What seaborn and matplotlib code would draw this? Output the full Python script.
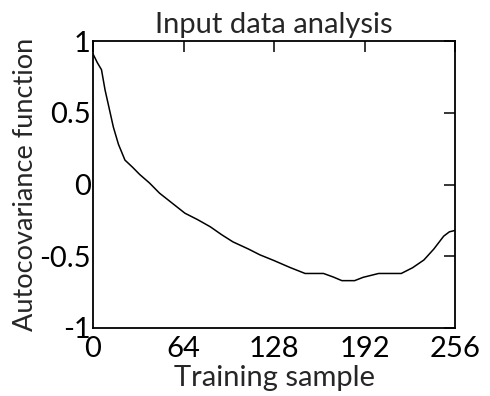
import matplotlib
matplotlib.use("Agg")
import matplotlib.pyplot as plt
import seaborn as sns
import pandas as pd

# data
sample = [0, 3, 6, 8.5, 11, 14.4, 18, 22.6, 28, 33, 40, 47, 56, 65, 74, 83, 91, 99,
          110, 118, 128, 139, 150, 163, 170, 176, 185, 191, 202, 218, 226, 234,
          241, 248, 252, 256]
acov = [0.91, 0.85, 0.80, 0.66, 0.55, 0.40, 0.28, 0.17, 0.12, 0.07, 0.01, -0.06,
        -0.13, -0.20, -0.245, -0.295, -0.35, -0.40, -0.45, -0.49, -0.53, -0.577,
        -0.62, -0.62, -0.645, -0.67, -0.67, -0.647, -0.62, -0.62, -0.58, -0.526,
        -0.45, -0.36, -0.33, -0.32]
xticks = [0, 64, 128, 192, 256]
yticks = [-1, -0.5, 0, 0.5, 1]
ytick_labels = ["-1", "-0.5", "0", "0.5", "1"]

sns.set_style("white")
plt.rcParams['font.family'] = ['Lato', 'DejaVu Sans']

fig = plt.figure(figsize=(4.9, 3.96), dpi=100)
ax = fig.add_axes([93/490, 1-328/396, (455-93)/490, (328-41)/396])

df = pd.DataFrame({"x": sample, "y": acov})
sns.lineplot(data=df, x="x", y="y", ax=ax, color="black", linewidth=1.1)

ax.set_xlim(0, 256)
ax.set_ylim(-1, 1)
ax.set_xticks(xticks)
ax.set_xticklabels([str(t) for t in xticks])
ax.set_yticks(yticks)
ax.set_yticklabels(ytick_labels)
ax.tick_params(direction="in", length=8, width=1.1, top=True, right=True,
               labelsize=21, pad=1.5, colors="black")
ax.tick_params(axis="x", pad=6)
for s in ax.spines.values():
    s.set_color("black")
    s.set_linewidth(1.3)
ax.set_xlabel("Training sample", fontsize=21, labelpad=2)
ax.set_ylabel("Autocovariance function", fontsize=19.5, labelpad=1)
ax.set_title("Input data analysis", fontsize=21, pad=6)

fig.savefig("out.png", dpi=100)
